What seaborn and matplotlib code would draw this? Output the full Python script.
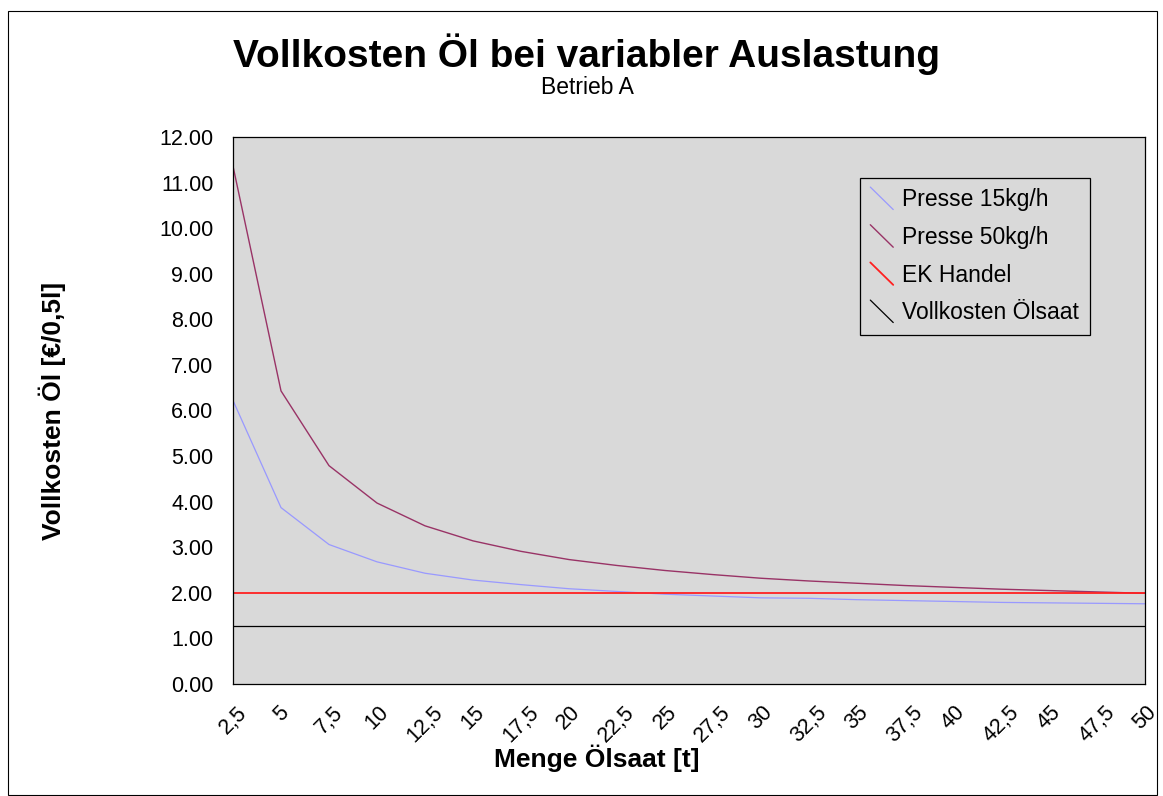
import numpy as np
import pandas as pd
import matplotlib
matplotlib.use("Agg")
import matplotlib.pyplot as plt
import seaborn as sns
from matplotlib.lines import Line2D
from matplotlib.patches import Rectangle
from matplotlib.legend_handler import HandlerLine2D

# Werte
menge = [2.5, 5, 7.5, 10, 12.5, 15, 17.5, 20, 22.5, 25,
         27.5, 30, 32.5, 35, 37.5, 40, 42.5, 45, 47.5, 50]
menge_labels = ["2,5", "5", "7,5", "10", "12,5", "15", "17,5", "20", "22,5", "25",
                "27,5", "30", "32,5", "35", "37,5", "40", "42,5", "45", "47,5", "50"]
presse_15 = [6.22, 3.87, 3.06, 2.68, 2.43, 2.28, 2.18, 2.09, 2.03, 1.97,
             1.93, 1.89, 1.88, 1.85, 1.83, 1.81, 1.79, 1.78, 1.77, 1.76]
presse_50 = [11.36, 6.43, 4.79, 3.97, 3.47, 3.14, 2.91, 2.73, 2.60, 2.49,
             2.40, 2.32, 2.26, 2.21, 2.16, 2.12, 2.08, 2.05, 2.02, 1.99]
ek_handel = [2.00] * len(menge)
vollkosten_oelsaat = [1.28] * len(menge)

series_names = ["Presse 15kg/h", "Presse 50kg/h", "EK Handel", "Vollkosten Ölsaat"]
series_values = [presse_15, presse_50, ek_handel, vollkosten_oelsaat]
series_colors = ["#9999ff", "#993366", "#ff2020", "#000000"]
series_widths = [0.9, 1.0, 1.3, 0.9]

sns.set_theme(style="white")
plt.rcParams["font.family"] = ["Liberation Sans", "DejaVu Sans"]
plt.rcParams["text.color"] = "black"
plt.rcParams["axes.labelcolor"] = "black"
plt.rcParams["xtick.color"] = "black"
plt.rcParams["ytick.color"] = "black"


class DiagonalHandler(HandlerLine2D):
    # Excel-artige diagonale Legendensymbole
    def create_artists(self, legend, orig_handle, xdescent, ydescent,
                       width, height, fontsize, trans):
        line = Line2D([-xdescent, -xdescent + width],
                      [-ydescent + height * 1.2, -ydescent - height * 0.2])
        self.update_prop(line, orig_handle, legend)
        line.set_transform(trans)
        return [line]


fig = plt.figure(figsize=(11.63, 7.96), dpi=100)
ax = fig.add_axes([233 / 1163, 1 - 684 / 796, 912 / 1163, 547 / 796])
ax.set_facecolor("#d9d9d9")

for name, vals, col, lw in zip(series_names, series_values, series_colors, series_widths):
    d = pd.DataFrame({"Menge": menge, "Kosten": vals})
    sns.lineplot(data=d, x="Menge", y="Kosten", color=col, linewidth=lw, ax=ax)

ax.set_xlim(2.5, 50)
ax.set_ylim(0, 12)
ax.set_xticks(menge)
ax.set_xticklabels(menge_labels, rotation=45, ha="center", va="top")
ax.set_yticks(np.arange(0, 13, 1))
ax.set_yticklabels([f"{v:.2f}" for v in np.arange(0, 13, 1)])
ax.tick_params(axis="both", direction="out", length=8, width=0.9,
               color="black", labelsize=15.5, labelcolor="black")
ax.tick_params(axis="y", pad=6)
ax.tick_params(axis="x", pad=5)
for sp in ax.spines.values():
    sp.set_color("black")
    sp.set_linewidth(0.9)

ax.set_xlabel("Menge Ölsaat [t]", fontsize=19, fontweight="bold")
ax.xaxis.set_label_coords(0.399, -0.110)
ax.set_ylabel("Vollkosten Öl [€/0,5l]", fontsize=19, fontweight="bold")
ax.yaxis.set_label_coords(-0.183, 0.5)

handles = [Line2D([], [], color=c, linewidth=lw) for c, lw in zip(series_colors, series_widths)]
leg = ax.legend(handles, series_names, handler_map={Line2D: DiagonalHandler()},
                loc="upper left", bbox_to_anchor=(0.6875, 0.925), borderaxespad=0,
                fontsize=16.5, frameon=True, fancybox=False, framealpha=1,
                handlelength=1.0, handletextpad=0.4, labelspacing=0.64,
                borderpad=0.45)
leg.get_frame().set_facecolor("#d9d9d9")
leg.get_frame().set_edgecolor("black")
leg.get_frame().set_linewidth(0.9)

fig.text(0.504, 1 - 67 / 796, "Vollkosten Öl bei variabler Auslastung",
         ha="center", va="baseline", fontsize=28, fontweight="bold")
fig.text(0.505, 1 - 94 / 796, "Betrieb A", ha="center", va="baseline", fontsize=16.5)

fig.patches.append(Rectangle((8 / 1163, 1 / 796), 1149 / 1163, 784 / 796,
                             transform=fig.transFigure, fill=False,
                             edgecolor="black", linewidth=0.8))

fig.savefig("out.png", dpi=100, facecolor="white")
